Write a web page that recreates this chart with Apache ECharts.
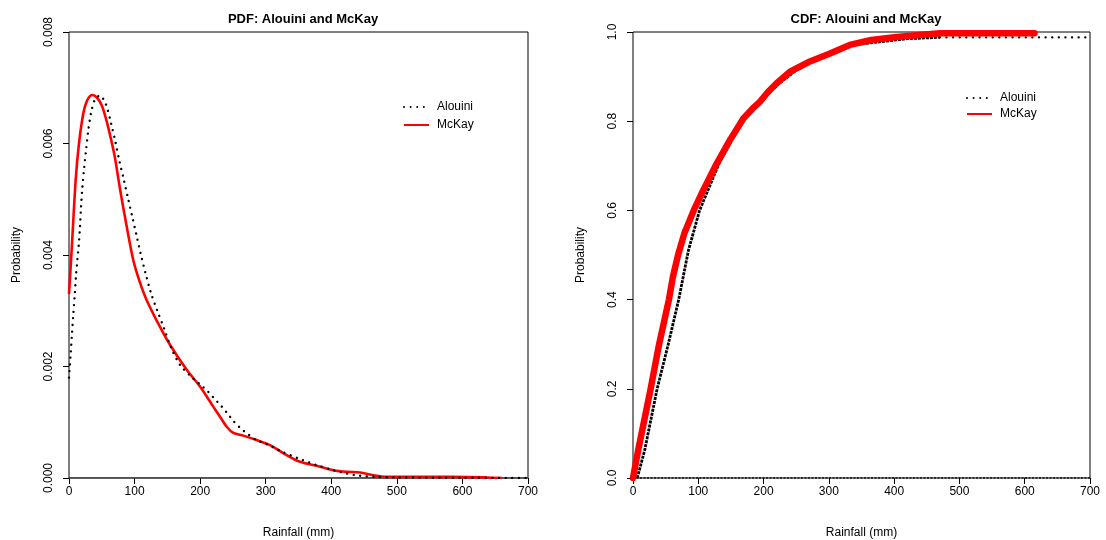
<!DOCTYPE html>
<html>
<head>
<meta charset="utf-8">
<script src="https://cdn.jsdelivr.net/npm/echarts@6/dist/echarts.min.js"></script>
<style>
html,body{margin:0;padding:0;background:#fff;}
#chart{width:1106px;height:540px;}
</style>
</head>
<body>
<div id="chart"></div>
<script>
// ---- PDF data (Rainfall mm, density) ----
var pdfAlouiniX = [0, 2.6, 4.6, 6.6, 8.7, 10.7, 12.7, 14.8, 16.8, 18.3, 20.3, 22.9, 26, 29.5, 34, 40, 47, 56, 64, 70.7, 76.8, 83.4, 90, 96.6, 103.2, 109.8, 117, 125, 134.7, 145.4, 155.6, 169.3, 189.6, 200.8, 212, 222, 232.3, 241.5, 251, 261, 272.5, 286, 299, 311.6, 324.9, 352.3, 366, 377.7, 400, 423.5, 437.7, 453, 467, 500, 600, 700];
var pdfAlouiniY = [0.0018, 0.00224, 0.0026, 0.00294, 0.00328, 0.00363, 0.0039, 0.00417, 0.00451, 0.00485, 0.0052, 0.00554, 0.00588, 0.00624, 0.00657, 0.0068, 0.00686, 0.00671, 0.00637, 0.00603, 0.00569, 0.00536, 0.00502, 0.00468, 0.00434, 0.004, 0.00366, 0.00332, 0.003, 0.00267, 0.00234, 0.00203, 0.00178, 0.00167, 0.00155, 0.00142, 0.00129, 0.00116, 0.00102, 0.0009, 0.00079, 0.00068, 0.00062, 0.00055, 0.00047, 0.00034, 0.00028, 0.00023, 0.00015, 0.00008, 0.00005, 0.00003, 0.00002, 0.00001, 0.000005, 0];

var pdfMcKayX = [0, 4.1, 10.2, 15.2, 21.8, 28, 35.5, 43, 50, 57, 64, 70, 78, 88, 98, 107, 118.5, 138.8, 154, 179.5, 199.8, 220, 230.3, 240.5, 250.6, 265.8, 286.2, 306.6, 332, 352.3, 377.7, 403, 423.5, 443.8, 464, 484.5, 535, 586, 637, 660];
var pdfMcKayY = [0.0033, 0.0041, 0.00535, 0.006, 0.00654, 0.00678, 0.00687, 0.00682, 0.00668, 0.00642, 0.00608, 0.00575, 0.00517, 0.00451, 0.00391, 0.00355, 0.00319, 0.00271, 0.00239, 0.00194, 0.00164, 0.00128, 0.0011, 0.00092, 0.00081, 0.00076, 0.00068, 0.00059, 0.00041, 0.00029, 0.00022, 0.00014, 0.00011, 0.0001, 0.00005, 0.00002, 0.00002, 0.00002, 0.00001, 0];

// ---- CDF data (Rainfall mm, cumulative probability) ----
var cdfAlouiniX = [6.5, 18, 37, 54, 70, 85, 102, 132, 167, 196, 224, 248, 288, 336, 420, 470];
var cdfAlouiniP = [0, 0.063, 0.2, 0.3, 0.4, 0.511, 0.6, 0.706, 0.8, 0.845, 0.885, 0.912, 0.945, 0.971, 0.985, 0.988];
var cdfAlouiniTailX = [470, 700];
var cdfAlouiniTailP = [0.988, 0.988];
var cdfZeroX = [0, 700];
var cdfZeroP = [0, 0];

var cdfMcKayX = [0, 8, 27, 40, 55, 61, 69, 79, 93, 107.8, 125.7, 148.6, 169, 183, 194.6, 207, 220, 240.5, 271, 301.7, 332, 365, 404, 470, 615];
var cdfMcKayP = [0, 0.063, 0.2, 0.3, 0.4, 0.45, 0.5, 0.55, 0.6, 0.646, 0.698, 0.758, 0.806, 0.828, 0.844, 0.866, 0.885, 0.911, 0.934, 0.952, 0.971, 0.982, 0.989, 0.997, 0.997];

// ---- axis ticks ----
var xTicks = [0, 100, 200, 300, 400, 500, 600, 700];
var pdfYTicks = [0, 0.002, 0.004, 0.006, 0.008];
var cdfYTicks = [0, 0.2, 0.4, 0.6, 0.8, 1.0];

function zip(a, b) { return a.map(function (v, i) { return [v, b[i]]; }); }

var FONT = 'Liberation Sans, Arial, sans-serif';
var chart = echarts.init(document.getElementById('chart'));

function xAxisDef(idx) {
  return {
    gridIndex: idx, type: 'value', min: xTicks[0], max: xTicks[xTicks.length - 1],
    interval: xTicks[1] - xTicks[0],
    name: 'Rainfall (mm)', nameLocation: 'middle', nameGap: 49,
    nameTextStyle: { color: '#000', fontSize: 12, fontFamily: FONT },
    axisLine: { show: false },
    axisTick: { show: true, inside: false, length: 6, lineStyle: { color: '#000' } },
    axisLabel: { color: '#000', fontSize: 12, fontFamily: FONT, margin: 8 },
    splitLine: { show: false }
  };
}
function yAxisDef(idx, ticks, digits) {
  return {
    gridIndex: idx, type: 'value', min: ticks[0], max: ticks[ticks.length - 1],
    interval: ticks[1] - ticks[0],
    name: 'Probability', nameLocation: 'middle', nameGap: 46,
    nameTextStyle: { color: '#000', fontSize: 12, fontFamily: FONT },
    axisLine: { show: false },
    axisTick: { show: true, inside: false, length: 6, lineStyle: { color: '#000' } },
    axisLabel: {
      color: '#000', fontSize: 12, fontFamily: FONT, rotate: 90, margin: 14,
      formatter: function (v) { return v.toFixed(digits); }
    },
    splitLine: { show: false }
  };
}

var dotted = { color: '#000', width: 2.4, type: [0.01, 6.6], cap: 'round' };
var legendCommon = {
  orient: 'vertical', itemWidth: 25, itemHeight: 10, selectedMode: false,
  data: ['Alouini', 'McKay'],
  itemStyle: { opacity: 0 },
  textStyle: { fontSize: 12, color: '#000', fontFamily: FONT, padding: [0, 0, 0, 3] }
};

var option = {
  animation: false,
  backgroundColor: '#fff',
  title: [
    { text: 'PDF: Alouini and McKay', left: 298, top: 8, textAlign: 'center',
      textStyle: { fontSize: 13, fontWeight: 'bold', color: '#000', fontFamily: FONT } },
    { text: 'CDF: Alouini and McKay', left: 861, top: 8, textAlign: 'center',
      textStyle: { fontSize: 13, fontWeight: 'bold', color: '#000', fontFamily: FONT } }
  ],
  legend: [
    Object.assign({ left: 398, top: 96, itemGap: 6 }, legendCommon),
    Object.assign({ left: 961, top: 87, itemGap: 4 }, legendCommon)
  ],
  grid: [
    { left: 69, top: 32, width: 459, height: 446, show: true, borderColor: '#000', borderWidth: 1,
      backgroundColor: 'transparent', containLabel: false, outerBoundsMode: 'none' },
    { left: 633, top: 32, width: 457, height: 446, show: true, borderColor: '#000', borderWidth: 1,
      backgroundColor: 'transparent', containLabel: false, outerBoundsMode: 'none' }
  ],
  xAxis: [xAxisDef(0), xAxisDef(1)],
  yAxis: [yAxisDef(0, pdfYTicks, 3), yAxisDef(1, cdfYTicks, 1)],
  series: [
    { name: 'Alouini', type: 'line', xAxisIndex: 0, yAxisIndex: 0, data: zip(pdfAlouiniX, pdfAlouiniY),
      smooth: 0.3, showSymbol: false, symbol: 'none', lineStyle: dotted, itemStyle: { color: '#000' }, z: 3 },
    { name: 'McKay', type: 'line', xAxisIndex: 0, yAxisIndex: 0, data: zip(pdfMcKayX, pdfMcKayY),
      smooth: 0.3, showSymbol: false, symbol: 'none', lineStyle: { color: '#ff0000', width: 2.6, join: 'round' }, itemStyle: { color: '#ff0000' }, z: 2 },
    { name: 'zero', type: 'line', xAxisIndex: 0, yAxisIndex: 0, data: [[0, 0], [700, 0]],
      showSymbol: false, symbol: 'none', lineStyle: { color: '#444', width: 1.5 }, z: 1, silent: true },

    { name: 'Alouini', type: 'line', xAxisIndex: 1, yAxisIndex: 1, data: zip(cdfAlouiniX, cdfAlouiniP),
      showSymbol: false, symbol: 'none',
      lineStyle: { color: '#000', width: 2.8, type: [3, 1], join: 'round' }, itemStyle: { color: '#000' }, z: 2 },
    { name: 'Alouini', type: 'line', xAxisIndex: 1, yAxisIndex: 1, data: zip(cdfAlouiniTailX, cdfAlouiniTailP),
      showSymbol: false, symbol: 'none', lineStyle: dotted, itemStyle: { color: '#000' }, z: 2 },
    { name: 'Alouini', type: 'line', xAxisIndex: 1, yAxisIndex: 1, data: zip(cdfZeroX, cdfZeroP),
      showSymbol: false, symbol: 'none', lineStyle: { color: '#000', width: 1.5, type: [2, 1.5] }, itemStyle: { color: '#000' }, z: 2 },
    { name: 'McKay', type: 'line', xAxisIndex: 1, yAxisIndex: 1, data: zip(cdfMcKayX, cdfMcKayP),
      showSymbol: false, symbol: 'none',
      lineStyle: { color: '#ff0000', width: 6.5, cap: 'round', join: 'round' }, itemStyle: { color: '#ff0000' }, z: 3 }
  ]
};
chart.setOption(option);
</script>
</body>
</html>
